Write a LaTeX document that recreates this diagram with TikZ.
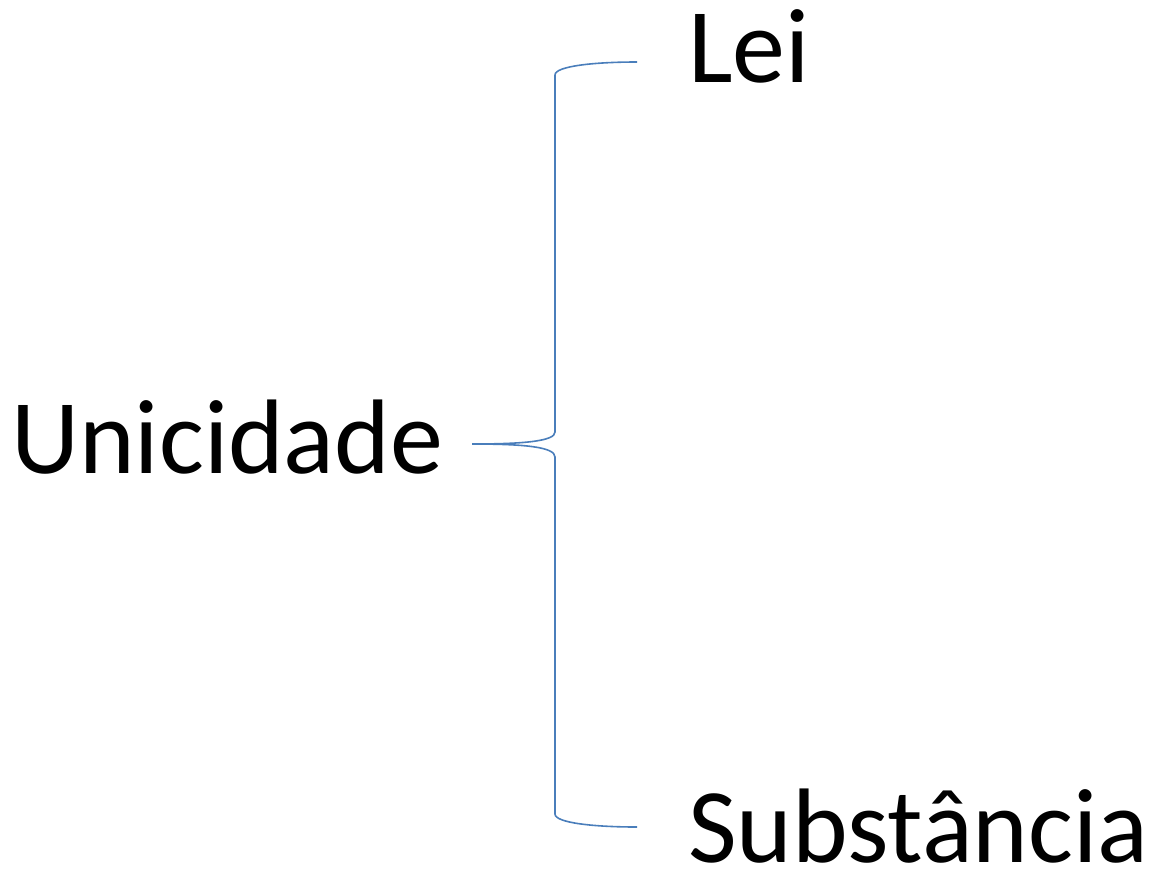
\documentclass[tikz,border=0pt]{standalone}
\usepackage{fontspec}
\setmainfont{Carlito}
\definecolor{bracecol}{HTML}{4A7EBB}
\begin{document}
\begin{tikzpicture}[x=1pt,y=-1pt,
  lbl/.style={anchor=base west,inner sep=0pt,font=\fontsize{106}{120}\selectfont},
  brace/.style={draw=bracecol,line width=1.6pt}]
\useasboundingbox (0,0) rectangle (1155,871);
\node[lbl] (lei) at (688,82) {Lei};
\node[lbl] (uni) at (11,473) {Unicidade};
\node[lbl] (sub) at (688,862) {Substância};
\coordinate (tip) at (472,444);
\coordinate (tend) at (637,62);
\coordinate (bend) at (637,827);
\draw[brace] (tip) .. controls (525,444) and (555,441) .. (555,432)
  -- (555,75) .. controls (555,66) and (595,62) .. (tend);
\draw[brace] (tip) .. controls (525,444) and (555,447) .. (555,457)
  -- (555,814) .. controls (555,823) and (595,827) .. (bend);
\end{tikzpicture}
\end{document}
